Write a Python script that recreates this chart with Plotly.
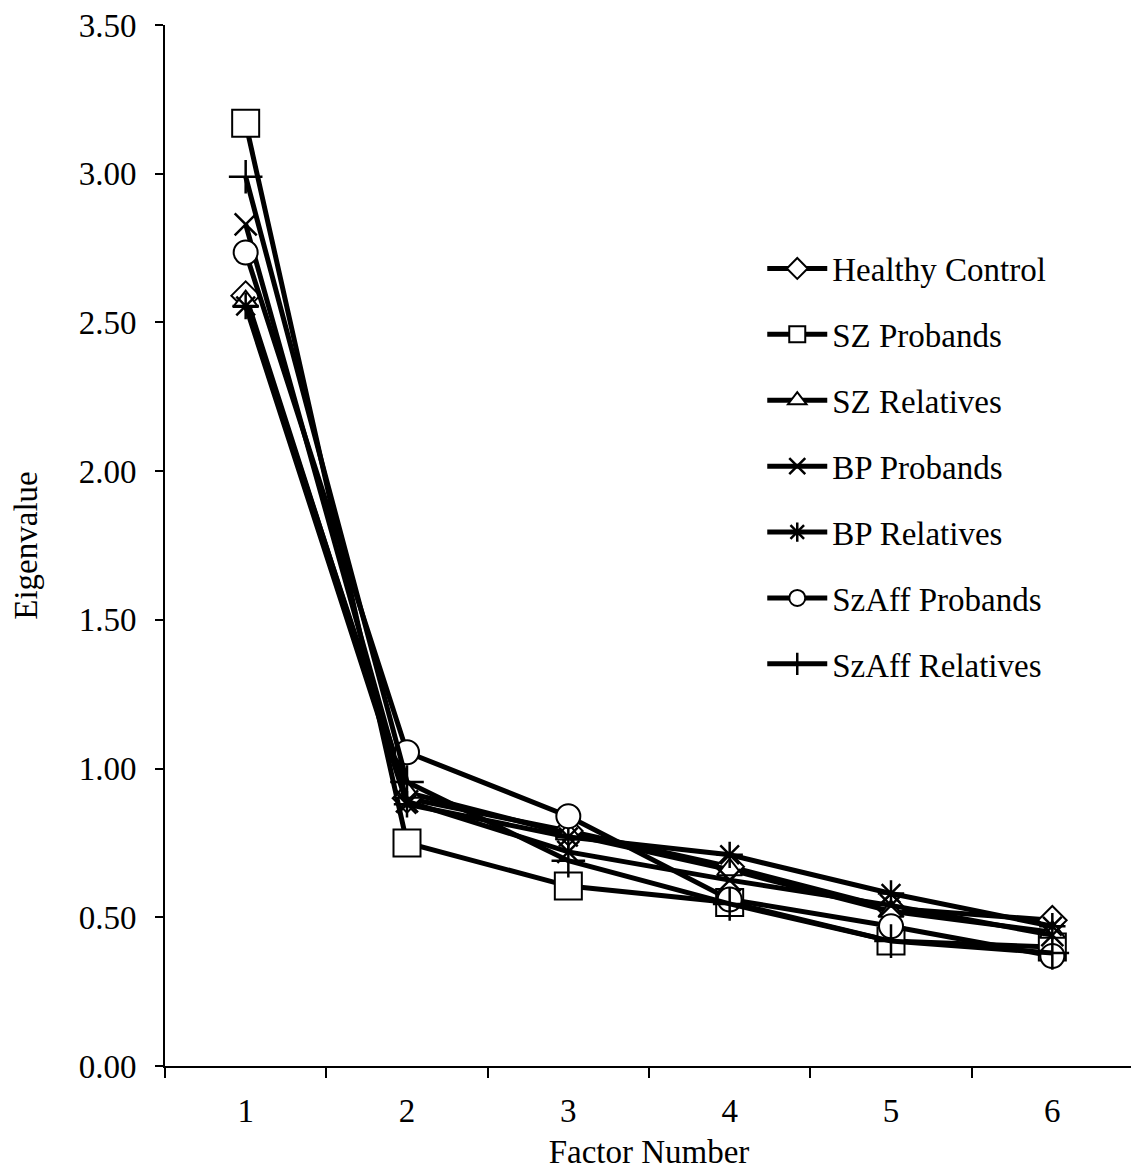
import plotly.graph_objects as go

factors = [1, 2, 3, 4, 5, 6]
healthy_control = [2.59, 0.90, 0.79, 0.67, 0.53, 0.49]
sz_probands = [3.17, 0.75, 0.605, 0.55, 0.42, 0.40]
sz_relatives = [2.57, 0.92, 0.78, 0.66, 0.52, 0.45]
bp_probands = [2.83, 0.89, 0.72, 0.625, 0.54, 0.44]
bp_relatives = [2.555, 0.88, 0.77, 0.71, 0.58, 0.47]
szaff_probands = [2.735, 1.055, 0.84, 0.56, 0.47, 0.37]
szaff_relatives = [2.99, 0.955, 0.69, 0.545, 0.42, 0.38]

yticks = [0, 0.5, 1.0, 1.5, 2.0, 2.5, 3.0, 3.5]

series = [
    ("Healthy Control", healthy_control, "diamond", 22),
    ("SZ Probands", sz_probands, "square", 27),
    ("SZ Relatives", sz_relatives, "triangle-up", 22),
    ("BP Probands", bp_probands, "x-thin", 22),
    ("BP Relatives", bp_relatives, "asterisk", 22),
    ("SzAff Probands", szaff_probands, "circle", 24),
    ("SzAff Relatives", szaff_relatives, "cross-thin", 24),
]

fig = go.Figure()
for i, (name, vals, sym, size) in enumerate(series):
    thin = sym.endswith("thin") or sym == "asterisk"
    fig.add_trace(go.Scatter(
        x=factors, y=vals, name=name, mode="lines+markers",
        legendgroup=name,
        line=dict(color="black", width=5),
        marker=dict(symbol=sym, size=size, color="white",
                    line=dict(color="black", width=2 if not thin else 2.5)),
    ))

font_family = "Liberation Serif"
fs = 33
fig.update_layout(
    width=1131, height=1165,
    paper_bgcolor="white", plot_bgcolor="white",
    margin=dict(l=157, r=6, t=17, b=107, autoexpand=False),
    font=dict(family=font_family, size=fs, color="black"),
    showlegend=True,
    legend=dict(x=0.617, y=0.793, xanchor="left", yanchor="top",
                font=dict(family=font_family, size=fs, color="black"),
                tracegroupgap=20, itemwidth=60, bgcolor="rgba(0,0,0,0)",
                traceorder="grouped"),
    xaxis=dict(range=[0.5, 6.5], tickvals=factors, ticktext=[str(f) for f in factors],
               ticks="", showline=True, linecolor="black", linewidth=2,
               showgrid=False, zeroline=False, ticklabelstandoff=14,
               minor=dict(tick0=0.5, dtick=1, ticks="outside", ticklen=10,
                          tickcolor="black", tickwidth=2, showgrid=False),
               tickfont=dict(size=fs),
               title=dict(text="Factor Number", font=dict(size=fs), standoff=12)),
    yaxis=dict(range=[0, 3.5], tickvals=yticks, tickformat=".2f",
               ticks="outside", ticklen=8, tickcolor="black", tickwidth=2,
               showline=True, linecolor="black", linewidth=2,
               showgrid=False, zeroline=False, ticklabelstandoff=12,
               ticklabeloverflow="allow",
               tickfont=dict(size=fs),
               title=dict(text="Eigenvalue", font=dict(size=fs), standoff=40)),
)

fig.write_html("out.html")
